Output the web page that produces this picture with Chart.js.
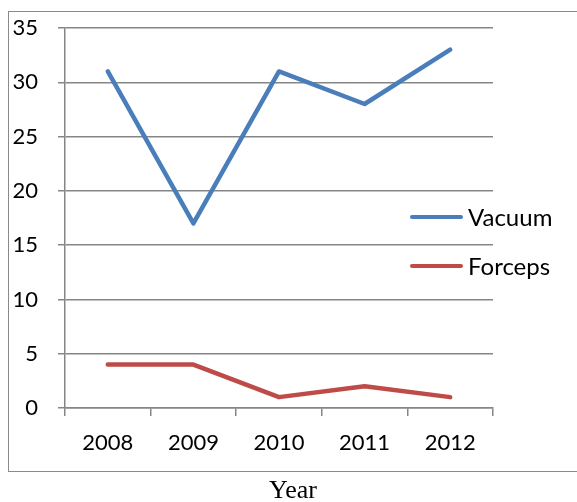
<!DOCTYPE html>
<html>
<head>
<meta charset="utf-8">
<script src="https://cdn.jsdelivr.net/npm/chart.js"></script>
<style>
html, body { margin: 0; padding: 0; background: #fff; overflow: hidden; }
#wrap { position: relative; width: 577px; height: 502px; }
#frame { position: absolute; left: 8px; top: 11px; width: 600px; height: 461px;
  border: 1.5px solid #8a8a8a; box-sizing: border-box; }
canvas { position: absolute; left: 0; top: 0; }
.key { position: absolute; left: 410px; height: 22px; display: flex; align-items: center;
  font: 24px Lato, sans-serif; color: #000; line-height: 22px; }
.key span.ln { display: inline-block; width: 53px; height: 4.5px; border-radius: 3px; margin-right: 5px; }
#xtitle { position: absolute; left: 243px; top: 477px; width: 100px; text-align: center;
  font: 26px "Liberation Serif", serif; line-height: 26px; color: #000; }
</style>
</head>
<body>
<div id="wrap">
  <div id="frame"></div>
  <canvas id="myChart" width="577" height="502"></canvas>
  <div id="legend"></div>
  <div id="xtitle">Year</div>
</div>
<script>
var years = ['2008', '2009', '2010', '2011', '2012'];
var vacuum = [31, 17, 31, 28, 33];
var forceps = [4, 4, 1, 2, 1];
var seriesNames = ['Vacuum', 'Forceps'];
var seriesColors = ['#4a7ebb', '#be4b48'];

var gridGrey = '#868686';
var tickFont = { family: 'Lato', size: 22 };

var datasets = [vacuum, forceps].map(function (vals, i) {
  return {
    label: seriesNames[i],
    data: vals,
    borderColor: seriesColors[i],
    backgroundColor: seriesColors[i],
    borderWidth: 4.5,
    pointRadius: 0,
    tension: 0,
    borderCapStyle: 'round',
    borderJoinStyle: 'round'
  };
});

var ctx = document.getElementById('myChart');
var myChart = new Chart(ctx, {
  type: 'line',
  data: { labels: years, datasets: datasets },
  options: {
    responsive: false,
    animation: false,
    layout: { padding: { left: 0, right: 84, top: 28, bottom: 0 } },
    plugins: { legend: { display: false }, tooltip: { enabled: false } },
    scales: {
      x: {
        offset: true,
        grid: { offset: true, drawOnChartArea: false, tickLength: 8, color: gridGrey, lineWidth: 1.5 },
        border: { color: gridGrey, width: 1.5 },
        ticks: { font: tickFont, color: '#000', padding: 14, maxRotation: 0 },
        afterFit: function (s) { s.height = 94; }
      },
      y: {
        min: 0,
        max: 35,
        grid: { color: gridGrey, lineWidth: 1.5, tickLength: 7 },
        border: { color: gridGrey, width: 1.5 },
        ticks: { stepSize: 5, font: tickFont, color: '#000', padding: 20 },
        afterFit: function (s) {
          s.width = 65;
          // tick padding would otherwise push the plot top down
          s.paddingTop = 0;
          s.paddingBottom = 0;
        }
      }
    }
  }
});

// legend on the right, over the plot like the original
var keyTops = [206, 255];
var legend = document.getElementById('legend');
datasets.forEach(function (ds, i) {
  var d = document.createElement('div');
  d.className = 'key';
  d.style.top = keyTops[i] + 'px';
  d.innerHTML = '<span class="ln" style="background:' + ds.borderColor + '"></span>' + ds.label;
  legend.appendChild(d);
});
</script>
</body>
</html>
